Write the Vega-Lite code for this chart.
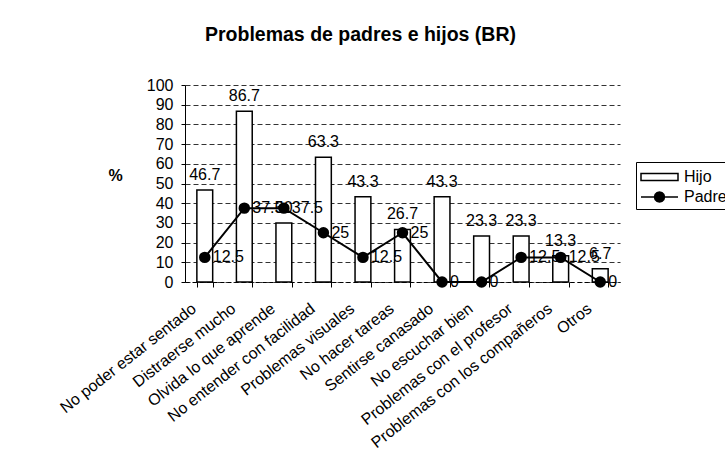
{
  "$schema": "https://vega.github.io/schema/vega-lite/v6.json",
  "autosize": {"type": "none"},
  "width": 435,
  "height": 197,
  "padding": {"left": 185, "top": 85, "right": 105, "bottom": 194},
  "background": "white",
  "config": {
    "font": "Liberation Sans",
    "view": {"stroke": null},
    "axis": {"labelColor": "black", "titleColor": "black", "labelFont": "Liberation Sans"}
  },
  "title": {
    "text": "Problemas de padres e hijos (BR)",
    "font": "Liberation Sans",
    "fontSize": 19.5,
    "fontWeight": "bold",
    "color": "black",
    "anchor": "start",
    "frame": "group",
    "dx": 20,
    "offset": 32
  },
  "data": {
    "values": [
      {"cat": "No poder estar sentado", "serie": "Hijo", "value": 46.7},
      {"cat": "Distraerse mucho", "serie": "Hijo", "value": 86.7},
      {"cat": "Olvida lo que aprende", "serie": "Hijo", "value": 30},
      {"cat": "No entender con facilidad", "serie": "Hijo", "value": 63.3},
      {"cat": "Problemas visuales", "serie": "Hijo", "value": 43.3},
      {"cat": "No hacer tareas", "serie": "Hijo", "value": 26.7},
      {"cat": "Sentirse canasado", "serie": "Hijo", "value": 43.3},
      {"cat": "No escuchar bien", "serie": "Hijo", "value": 23.3},
      {"cat": "Problemas con el profesor", "serie": "Hijo", "value": 23.3},
      {"cat": "Problemas con los compañeros", "serie": "Hijo", "value": 13.3},
      {"cat": "Otros", "serie": "Hijo", "value": 6.7},
      {"cat": "No poder estar sentado", "serie": "Padre", "value": 12.5},
      {"cat": "Distraerse mucho", "serie": "Padre", "value": 37.5},
      {"cat": "Olvida lo que aprende", "serie": "Padre", "value": 37.5},
      {"cat": "No entender con facilidad", "serie": "Padre", "value": 25},
      {"cat": "Problemas visuales", "serie": "Padre", "value": 12.5},
      {"cat": "No hacer tareas", "serie": "Padre", "value": 25},
      {"cat": "Sentirse canasado", "serie": "Padre", "value": 0},
      {"cat": "No escuchar bien", "serie": "Padre", "value": 0},
      {"cat": "Problemas con el profesor", "serie": "Padre", "value": 12.5},
      {"cat": "Problemas con los compañeros", "serie": "Padre", "value": 12.5},
      {"cat": "Otros", "serie": "Padre", "value": 0}
    ]
  },
  "encoding": {
    "x": {
      "field": "cat",
      "type": "nominal",
      "sort": null,
      "scale": {"paddingInner": 0.6, "paddingOuter": 0.3},
      "axis": {
        "title": null,
        "labelAngle": -38,
        "labelFontSize": 16,
        "labelPadding": 13,
        "labelOffset": -16,
        "tickBand": "extent",
        "tickColor": "black",
        "tickSize": 5,
        "domainColor": "black",
        "domainDash": [4, 3],
        "labelLimit": 300
      }
    },
    "y": {
      "field": "value",
      "type": "quantitative",
      "scale": {"domain": [0, 100]},
      "axis": {
        "title": "%",
        "titleAngle": 0,
        "titleFontSize": 16,
        "titleFontWeight": "bold",
        "titleX": -70,
        "titleY": 90,
        "titleAlign": "center",
        "titleBaseline": "middle",
        "values": [0, 10, 20, 30, 40, 50, 60, 70, 80, 90, 100],
        "labelFontSize": 16,
        "labelPadding": 8,
        "tickSize": 4,
        "tickColor": "black",
        "domainColor": "black",
        "grid": true,
        "gridColor": "#333333",
        "gridDash": [5, 3],
        "gridWidth": 1
      }
    }
  },
  "layer": [
    {
      "transform": [{"filter": "datum.serie === 'Hijo'"}],
      "mark": {"type": "bar", "stroke": "black", "strokeWidth": 1.5},
      "encoding": {
        "fill": {
          "field": "serie",
          "type": "nominal",
          "scale": {"domain": ["Hijo", "Padre"], "range": ["white", "black"]},
          "legend": {
            "title": null,
            "orient": "none",
            "legendX": 451,
            "legendY": 77,
            "strokeColor": "black",
            "fillColor": "white",
            "padding": 4,
            "labelFontSize": 16,
            "labelColor": "black",
            "labelOffset": 22,
            "rowPadding": 1,
            "symbolSize": 400,
            "symbolStrokeColor": "black",
            "symbolStrokeWidth": 1.5,
            "encode": {
              "symbols": {
                "update": {
                  "shape": {"signal": "datum.label === 'Hijo' ? 'M-1,-0.35H2.7V0.35H-1Z' : 'M-1,0H2.7M1.35,0L1.28,0.25L1.1,0.43L0.85,0.5L0.6,0.43L0.42,0.25L0.35,0L0.42,-0.25L0.6,-0.43L0.85,-0.5L1.1,-0.43L1.28,-0.25Z'"},
                  "size": {"value": 400},
                  "stroke": {"value": "black"},
                  "strokeWidth": {"value": 1.5}
                }
              }
            }
          }
        }
      }
    },
    {
      "transform": [{"filter": "datum.serie === 'Hijo'"}],
      "mark": {"type": "text", "baseline": "bottom", "dy": -7, "fontSize": 16, "color": "black"},
      "encoding": {"text": {"field": "value", "type": "quantitative", "format": "~g"}}
    },
    {
      "transform": [{"filter": "datum.serie === 'Padre'"}],
      "mark": {"type": "line", "color": "black", "strokeWidth": 2},
      "encoding": {}
    },
    {
      "transform": [{"filter": "datum.serie === 'Padre'"}],
      "mark": {"type": "point", "filled": true, "size": 90, "opacity": 1, "stroke": "black"},
      "encoding": {
        "fill": {"field": "serie", "type": "nominal"}
      }
    },
    {
      "transform": [{"filter": "datum.serie === 'Padre'"}],
      "mark": {"type": "text", "align": "left", "baseline": "middle", "dx": 8, "fontSize": 16, "color": "black"},
      "encoding": {"text": {"field": "value", "type": "quantitative", "format": "~g"}}
    }
  ]
}
